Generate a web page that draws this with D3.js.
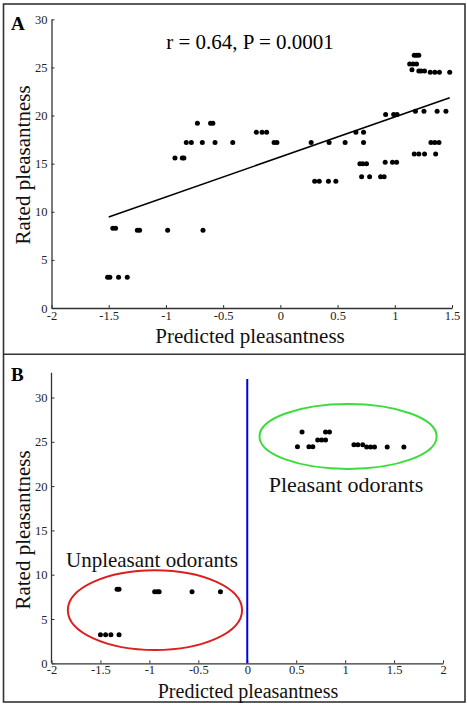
<!DOCTYPE html>
<html><head><meta charset="utf-8">
<script src="https://cdn.jsdelivr.net/npm/d3@7"></script>
<style>body{margin:0;background:#fff}svg{display:block}text{font-family:"Liberation Serif","Times New Roman",serif}</style>
</head><body>
<script>
// Panel A data: predicted vs rated pleasantness
const predictedA = [1.17,1.19,1.21, 1.13,1.16,1.19, 1.15, 1.21,1.23,1.26, 1.31,1.35,1.39,1.48,
  1.18,1.255,1.37,1.447, 0.92,0.99,1.02, -0.725,-0.61,-0.59,
  -0.21,-0.16,-0.12,0.66,0.727,
  -0.822,-0.778,-0.682,-0.571,-0.416,-0.055,-0.03,0.269,0.426,0.566,0.727,1.316,1.35,1.386,
  1.17,1.21,1.26,1.357, -0.921,-0.857,-0.843, 0.916,0.98,1.016, 0.695,0.72,0.753,
  0.71,0.78,0.876,0.907, 0.30,0.34,0.42,0.485, -1.464,-1.44, -1.25,-1.23,-0.985,-0.676,
  -1.51,-1.49,-1.414,-1.338];
const ratedA = [26.27,26.27,26.27, 25.36,25.36,25.36, 24.77, 24.64,24.64,24.64, 24.5,24.5,24.5,24.5,
  20.45,20.45,20.45,20.45, 20.1,20.1,20.1, 19.2,19.2,19.2,
  18.26,18.26,18.26,18.26,18.26,
  17.2,17.2,17.2,17.2,17.2,17.2,17.2,17.2,17.2,17.2,17.2,17.2,17.2,17.2,
  16.0,16.0,16.0,16.0, 15.6,15.6,15.6, 15.15,15.15,15.15, 15.0,15.0,15.0,
  13.65,13.65,13.65,13.65, 13.17,13.17,13.17,13.17, 8.3,8.3, 8.07,8.07,8.07,8.07,
  3.19,3.19,3.19,3.19];
const fitX = [-1.5, 1.48];
const fitY = [9.45, 21.86];
const statText = "r = 0.64, P = 0.0001";

// Panel B data
const predictedB = [0.513,0.56,0.63,0.67,0.72,0.76,0.80,0.80,0.84,1.09,1.13,1.18,1.22,1.26,1.30,1.43,1.6,
  -1.33,-1.31,-0.946,-0.92,-0.90,-0.564,-0.274,-1.50,-1.447,-1.393,-1.31];
const ratedB = [24.45,26.1,24.45,24.45,25.2,25.2,25.2,26.1,26.1,24.67,24.67,24.67,24.4,24.4,24.4,24.4,24.4,
  8.35,8.35,8.08,8.08,8.08,8.08,8.08,3.23,3.23,3.23,3.23];
const groupLabels = ["Pleasant odorants", "Unpleasant odorants"];
const ellipseCx = [1.03, -0.943], ellipseCy = [25.6, 6.0], ellipseRx = [0.905, 0.89], ellipseRy = [3.66, 4.5];
const ellipseColors = ["#3ddc3d", "#dc2020"];

const xTicksA = [-2,-1.5,-1,-0.5,0,0.5,1,1.5];
const xTicksB = [-2,-1.5,-1,-0.5,0,0.5,1,1.5,2];
const yTicks = [0,5,10,15,20,25,30];

const W = 467, H = 706;
const svg = d3.select("body").append("svg").attr("width", W).attr("height", H);

// panel frame
svg.append("rect").attr("x",3.5).attr("y",4).attr("width",461.5).attr("height",698)
  .attr("fill","none").attr("stroke","#333").attr("stroke-width",1.6);
svg.append("line").attr("x1",3.5).attr("x2",465).attr("y1",354.3).attr("y2",354.3)
  .attr("stroke","#333").attr("stroke-width",1.6);

function styleAxis(g){
  g.selectAll("path.domain").attr("stroke","#333").attr("stroke-width",1.3);
  g.selectAll(".tick line").attr("stroke","#333").attr("stroke-width",1);
  g.selectAll(".tick text").attr("font-size",12.5).attr("fill","#222")
    .style("font-family","'Liberation Serif','Times New Roman',serif");
}
const fmt = d => String(d);
const LBL = 21;

// ---------- Panel A ----------
const xA = d3.scaleLinear().domain([-2,1.5]).range([51.5,452]);
const yA = d3.scaleLinear().domain([0,30]).range([308,19.3]);

svg.append("g").attr("transform","translate(0,308)")
  .call(d3.axisBottom(xA).tickValues(xTicksA).tickFormat(fmt).tickSizeInner(-3).tickSizeOuter(0).tickPadding(3))
  .call(styleAxis);
svg.append("g").attr("transform","translate(51.5,0)")
  .call(d3.axisLeft(yA).tickValues(yTicks).tickSizeInner(-3).tickSizeOuter(0).tickPadding(4))
  .call(styleAxis);

svg.append("line").attr("x1",xA(fitX[0])).attr("y1",yA(fitY[0])).attr("x2",xA(fitX[1])).attr("y2",yA(fitY[1]))
  .attr("stroke","#000").attr("stroke-width",1.6);

svg.append("g").selectAll("circle").data(d3.range(predictedA.length)).join("circle")
  .attr("cx",i=>xA(predictedA[i])).attr("cy",i=>yA(ratedA[i])).attr("r",2.5).attr("fill","#000");

svg.append("text").attr("x",250).attr("y",49).attr("text-anchor","middle").attr("font-size",LBL).text(statText);
svg.append("text").attr("x",11).attr("y",30).attr("font-size",19).attr("font-weight","bold").text("A");
svg.append("text").attr("x",250).attr("y",343).attr("text-anchor","middle").attr("font-size",LBL).attr("fill","#111").text("Predicted pleasantness");
svg.append("text").attr("transform","translate(30,165) rotate(-90)").attr("text-anchor","middle").attr("font-size",LBL).attr("fill","#111").text("Rated pleasantness");

// ---------- Panel B ----------
const xB = d3.scaleLinear().domain([-2,2]).range([51.5,443]);
const yB = d3.scaleLinear().domain([0,30]).range([663.3,397.5]);
const yBtop = 32.8;

svg.append("g").attr("transform","translate(0,663.3)")
  .call(d3.axisBottom(xB).tickValues(xTicksB).tickFormat(fmt).tickSizeInner(-3).tickSizeOuter(0).tickPadding(2))
  .call(styleAxis);
const gyB = svg.append("g").attr("transform","translate(51.5,0)")
  .call(d3.axisLeft(yB).tickValues(yTicks).tickSizeInner(-3).tickSizeOuter(0).tickPadding(4))
  .call(styleAxis);
gyB.select("path.domain").attr("d", `M0,${yB(0)}V${yB(yBtop)}`);

svg.append("line").attr("x1",xB(0)).attr("x2",xB(0)).attr("y1",yB(0)).attr("y2",yB(32.1))
  .attr("stroke","#0000e6").attr("stroke-width",2);

svg.append("g").selectAll("ellipse").data([0,1]).join("ellipse")
  .attr("cx",i=>xB(ellipseCx[i])).attr("cy",i=>yB(ellipseCy[i]))
  .attr("rx",i=>xB(ellipseCx[i]+ellipseRx[i])-xB(ellipseCx[i]))
  .attr("ry",i=>yB(ellipseCy[i]-ellipseRy[i])-yB(ellipseCy[i]))
  .attr("fill","none").attr("stroke",i=>ellipseColors[i]).attr("stroke-width",2);

svg.append("g").selectAll("circle").data(d3.range(predictedB.length)).join("circle")
  .attr("cx",i=>xB(predictedB[i])).attr("cy",i=>yB(ratedB[i])).attr("r",2.5).attr("fill","#000");

svg.append("text").attr("x",346).attr("y",492).attr("text-anchor","middle").attr("font-size",22).attr("fill","#111").text(groupLabels[0]);
svg.append("text").attr("x",152).attr("y",567).attr("text-anchor","middle").attr("font-size",LBL).attr("fill","#111").text(groupLabels[1]);
svg.append("text").attr("x",11).attr("y",381).attr("font-size",19).attr("font-weight","bold").text("B");
svg.append("text").attr("x",248).attr("y",697.5).attr("text-anchor","middle").attr("font-size",20).attr("fill","#111").text("Predicted pleasantness");
svg.append("text").attr("transform","translate(30,530) rotate(-90)").attr("text-anchor","middle").attr("font-size",LBL).attr("fill","#111").text("Rated pleasantness");
</script>
</body></html>
